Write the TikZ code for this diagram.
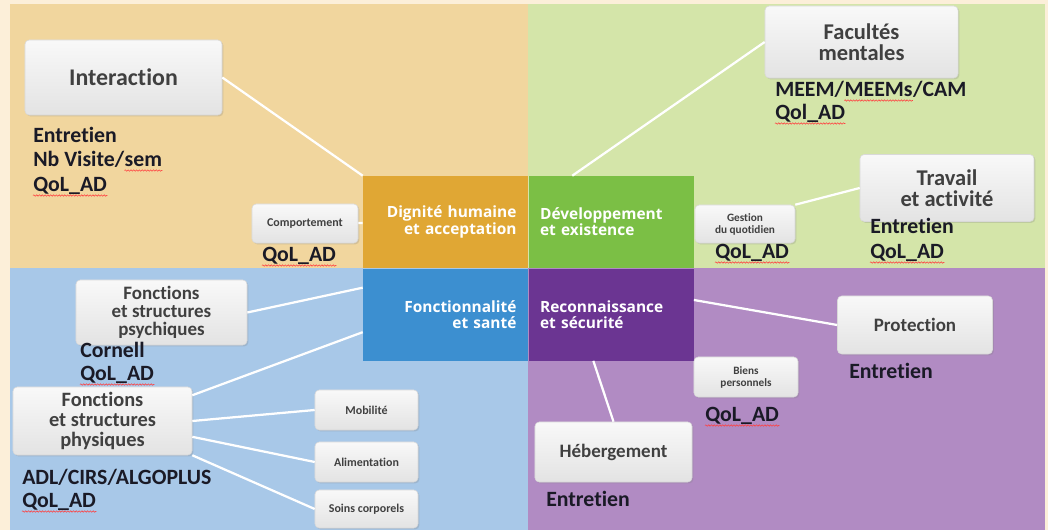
\documentclass[tikz,border=0pt]{standalone}
\usepackage{fontspec}
\setmainfont{Carlito}[Ligatures={TeX,NoCommon}]
\newfontfamily\blockfont{Open Sans}
\usepackage{tikz}
\usetikzlibrary{positioning,shadows,decorations.pathmorphing}

\definecolor{cream}{HTML}{FCEFD9}
\definecolor{qdign}{HTML}{F1D69E}
\definecolor{qdevel}{HTML}{D4E5A9}
\definecolor{qfonct}{HTML}{A8C8E8}
\definecolor{qrecon}{HTML}{B18BC3}
\definecolor{cdign}{HTML}{E0A734}
\definecolor{cdevel}{HTML}{7BBF45}
\definecolor{cfonct}{HTML}{3C8FD0}
\definecolor{crecon}{HTML}{6B3592}
\definecolor{boxtext}{HTML}{404040}
\definecolor{inktext}{HTML}{1A1A26}

\begin{document}
\begin{tikzpicture}[x=0.025cm,y=-0.025cm,
link/.style={draw=white,line width=1.6pt}]
\tikzstyle{block}=[inner xsep=8pt, inner ysep=0pt, minimum width=4.125cm,
minimum height=2.3cm, text width=101pt, text=white,
font=\blockfont\bfseries\fontsize{11}{11.5}\selectfont]
\tikzstyle{theme}=[rounded corners=3pt, top color=gray!5, bottom color=gray!22,
draw=gray!30, inner sep=2pt, text=boxtext, align=center,
drop shadow={opacity=0.25,shadow xshift=1pt,shadow yshift=-1pt},
font=\bfseries\fontsize{16}{14.5}\selectfont]
\tikzstyle{subtheme}=[theme, font=\bfseries\fontsize{8.5}{8.5}\selectfont]
\tikzstyle{tool}=[anchor=base west, inner sep=0pt, text=inktext,
font=\bfseries\fontsize{15.5}{15.5}\selectfont]
\tikzstyle{squig}=[draw=red!75, line width=0.4pt, decorate,
decoration={snake, amplitude=0.5pt, segment length=2pt}]

% quadrants
\fill[cream] (0,0) rectangle (1048,530);
\fill[qdign] (10,4) rectangle (528,268);
\fill[qdevel] (528,4) rectangle (1045,268);
\fill[qfonct] (10,268) rectangle (528,530);
\fill[qrecon] (528,268) rectangle (1045,530);

% central square
\node[block, fill=cdign, align=right] (dign) at (445.5,222) {Dignité humaine\\et acceptation};
\node[block, fill=cdevel, align=left, right=0pt of dign] (devel) {Développement\\et existence};
\node[block, fill=cfonct, align=right, below=0pt of dign] (fonct) {Fonctionnalité\\et santé};
\node[block, fill=crecon, align=left, below=0pt of devel] (recon) {Reconnaissance\\et sécurité};

% themes
\node[theme, minimum width=4.925cm, minimum height=1.875cm,
font=\bfseries\fontsize{17}{15}\selectfont] (inter) at (123.5,77.5) {Interaction};
\node[subtheme, minimum width=2.65cm, minimum height=0.975cm] (compo) at (305,223.5) {Comportement};
\node[theme, minimum width=4.825cm, minimum height=1.8cm] (facul) at (861.5,42) {Facultés\\mentales};
\node[theme, minimum width=4.35cm, minimum height=1.675cm] (trav) at (947,188) {Travail\\et activité};
\node[subtheme, minimum width=2.5cm, minimum height=0.95cm,
font=\bfseries\fontsize{8}{8.5}\selectfont] (gest) at (745,224) {Gestion\\du quotidien};
\node[theme, minimum width=4.275cm, minimum height=1.625cm,
font=\bfseries\fontsize{13.5}{13}\selectfont] (psych) at (161.5,312.5) {Fonctions\\et structures\\psychiques};
\node[theme, minimum width=4.475cm, minimum height=1.7cm,
font=\bfseries\fontsize{14.5}{14}\selectfont] (phys) at (102.5,421) {Fonctions\\et structures\\physiques};
\node[subtheme, minimum width=2.575cm, minimum height=1cm] (mobil) at (366.5,410) {Mobilité};
\node[subtheme, minimum width=2.575cm, minimum height=1cm] (alim) at (366.5,462) {Alimentation};
\node[subtheme, minimum width=2.575cm, minimum height=0.95cm] (soins) at (366.5,509) {Soins corporels};
\node[theme, minimum width=3.875cm, minimum height=1.45cm,
font=\bfseries\fontsize{13.5}{13.5}\selectfont] (prot) at (915,325) {Protection};
\node[subtheme, minimum width=2.6cm, minimum height=1cm,
font=\bfseries\fontsize{8}{8.5}\selectfont] (biens) at (746,377) {Biens\\personnels};
\node[theme, minimum width=3.925cm, minimum height=1.5cm,
font=\bfseries\fontsize{13.5}{13.5}\selectfont] (heberg) at (613.5,452) {Hébergement};

% tools
\node[tool] (entinter) at (33,143) {Entretien};
\node[tool] (nbvis) at (33,167) {Nb Visite/};
\node[tool] (nbsem) at (nbvis.base east) {sem};
\node[tool] (qolinter) at (33,192) {QoL\_AD};
\node[tool] (qolcompo) at (262,262) {QoL\_AD};
\node[tool] (meema) at (775,97) {MEEM/};
\node[tool] (meemb) at (meema.base east) {MEEMs};
\node[tool] (meemc) at (meemb.base east) {/CAM};
\node[tool] (qolfacul) at (775,120) {Qol\_AD};
\node[tool] (enttrav) at (870,234) {Entretien};
\node[tool] (qoltrav) at (870,259) {QoL\_AD};
\node[tool] (qolgest) at (715,259) {QoL\_AD};
\node[tool] (cornell) at (80,358) {Cornell};
\node[tool] (qolpsych) at (80,381) {QoL\_AD};
\node[tool] (adl) at (22,485) {ADL/CIRS/ALGOPLUS};
\node[tool] (qolphys) at (22,508) {QoL\_AD};
\node[tool] (entprot) at (849,379) {Entretien};
\node[tool] (qolbiens) at (705,422) {QoL\_AD};
\node[tool] (entheberg) at (546,507) {Entretien};

\foreach \n in {nbsem,qolinter,qolcompo,meemb,qolfacul,qoltrav,qolgest,qolpsych,qolphys,qolbiens}
  \draw[squig] ([yshift=-2.5pt]\n.base west) -- ([yshift=-2.5pt]\n.base east);

% links to the central square
\path[link] (inter.east) edge (dign.north west)
  (compo) edge (dign)
  (facul.west) edge (devel.130)
  (trav.west) edge (gest.north east)
  (psych.east) edge (fonct.162)
  (fonct.192) edge (phys.16)
  (phys.east) edge (mobil.west)
  (phys.-10) edge (alim.west)
  (phys.south east) edge (soins.west)
  (recon.10) edge (prot.west)
  (recon.249) edge (heberg.north);

\end{tikzpicture}
\end{document}
